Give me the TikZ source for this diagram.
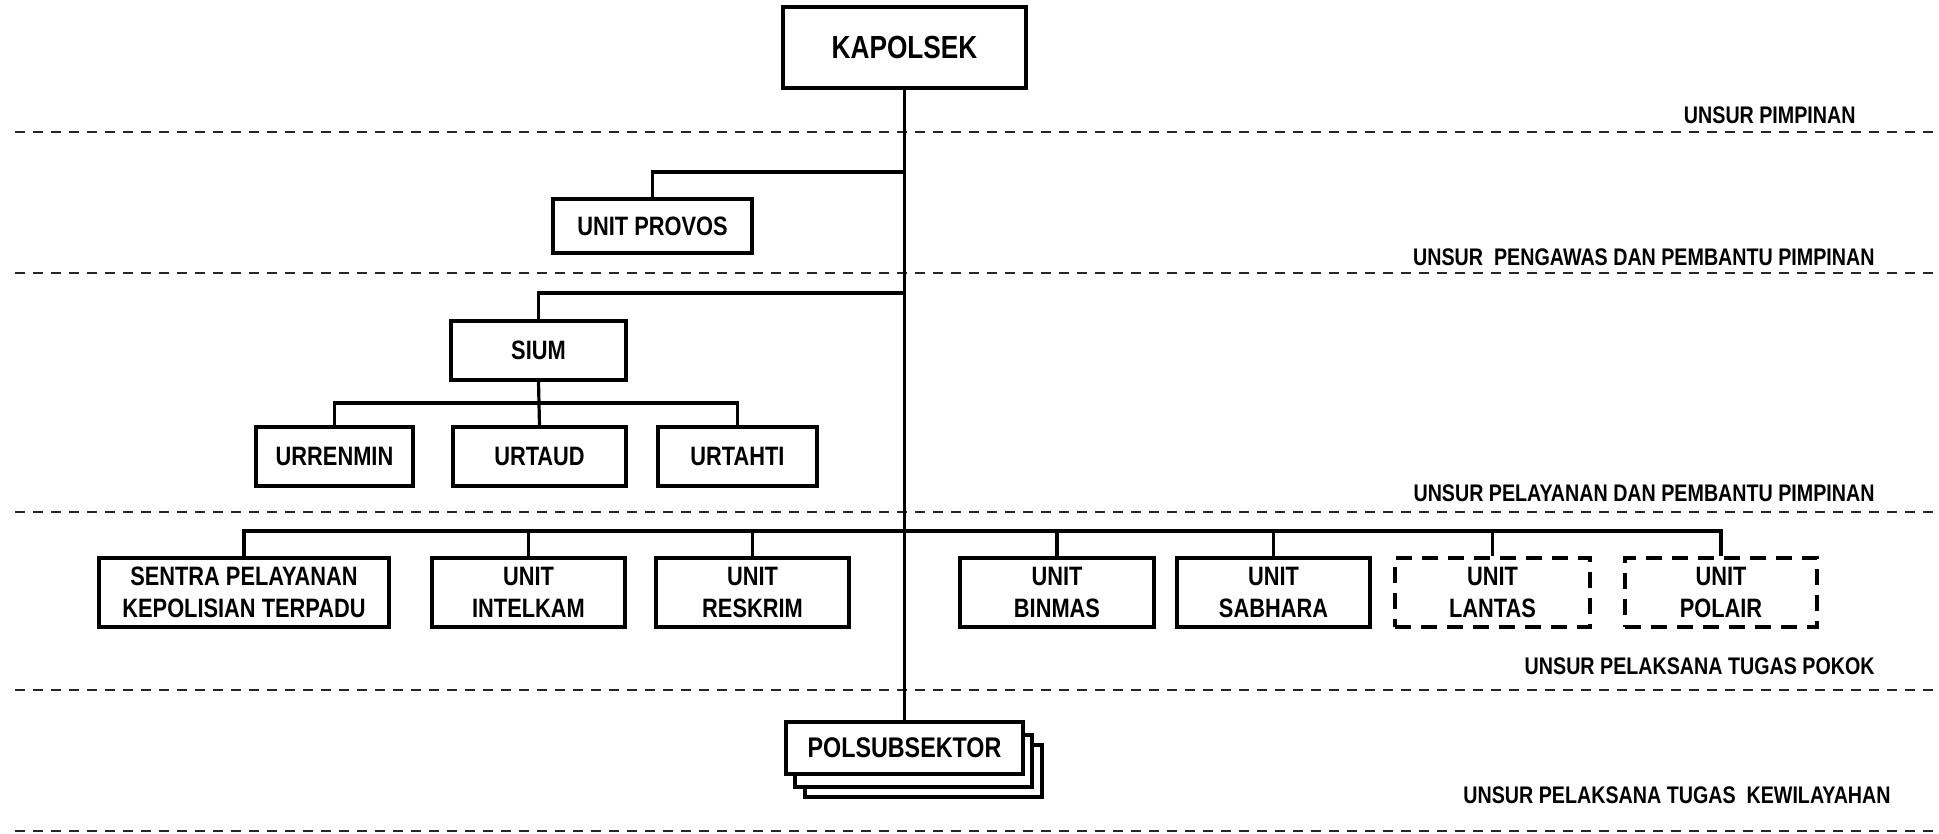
\documentclass[tikz,border=0pt]{standalone}
\usepackage{fontspec}
\setmainfont[FakeStretch=0.82]{Liberation Sans}
\begin{document}
\begin{tikzpicture}[x=0.5pt, y=-0.5pt,
    unit/.style={draw=black, line width=1.6pt, fill=white, inner sep=0pt,
                 font=\fontsize{13.3}{16}\selectfont\bfseries, align=center},
    optunit/.style={unit, dash pattern=on 8pt off 5pt, line width=1.8pt},
    link/.style={line width=1.6pt, draw=black},
    sep/.style={line width=1.3pt, draw=black!85, dash pattern=on 5pt off 4pt},
    layer/.style={anchor=east, inner sep=0pt,
                  font=\fontsize{12}{15}\selectfont\bfseries}]
  \useasboundingbox (0,0) rectangle (1939,834);

  % ---- the layer separators
  \foreach \yy in {132,273,512,690,831}
    \draw[sep] (15,\yy) -- (1939,\yy);

  % ---- layer names on the right
  \node[layer] (lpimp) at (1856,115) {UNSUR PIMPINAN};
  \node[layer] (lawas) at (1875,257) {UNSUR\ \ PENGAWAS DAN PEMBANTU PIMPINAN};
  \node[layer] (llayan) at (1875,493) {UNSUR PELAYANAN DAN PEMBANTU PIMPINAN};
  \node[layer] (lpokok) at (1875,666) {UNSUR PELAKSANA TUGAS POKOK};
  \node[layer] (lwil) at (1891,795) {UNSUR PELAKSANA TUGAS\ \ KEWILAYAHAN};

  % ---- top
  \node[unit, minimum width=121.5pt, minimum height=40.5pt,
        font=\fontsize{16}{19}\selectfont\bfseries] (kap) at (904.5,47.5) {KAPOLSEK};
  \node[unit, minimum width=99.5pt, minimum height=27pt] (prov) at (652.5,226) {UNIT PROVOS};
  \node[unit, minimum width=87.5pt, minimum height=29.5pt] (sium) at (538.5,350.5) {SIUM};

  % ---- SIUM staff
  \node[unit, minimum width=78.5pt, minimum height=29.5pt] (renmin) at (334.5,456.5) {URRENMIN};
  \node[unit, minimum width=86.5pt, minimum height=29.5pt] (taud) at (539.5,456.5) {URTAUD};
  \node[unit, minimum width=79.5pt, minimum height=29.5pt] (tahti) at (737.5,456.5) {URTAHTI};

  % ---- line units
  \node[unit, minimum width=145pt, minimum height=34.5pt] (spkt) at (244,592.5)
    {SENTRA PELAYANAN\\KEPOLISIAN TERPADU};
  \node[unit, minimum width=96.5pt, minimum height=34.5pt] (intel) at (528.5,592.5) {UNIT\\INTELKAM};
  \node[unit, minimum width=96.5pt, minimum height=34.5pt] (reskrim) at (752.5,592.5) {UNIT\\RESKRIM};
  \node[unit, minimum width=97pt, minimum height=34.5pt] (binmas) at (1057,592.5) {UNIT\\BINMAS};
  \node[unit, minimum width=96.5pt, minimum height=34.5pt] (sabhara) at (1273.5,592.5) {UNIT\\SABHARA};
  \node[optunit, minimum width=97.5pt, minimum height=34.5pt] (lantas) at (1492.5,592.5) {UNIT\\LANTAS};
  \node[optunit, minimum width=96pt, minimum height=34.5pt] (polair) at (1721,592.5) {UNIT\\POLAIR};

  % ---- polsubsektor, stacked
  \node[unit, minimum width=118.5pt, minimum height=26pt] (polsubC) at (923.5,771) {};
  \node[unit, minimum width=118.5pt, minimum height=26pt] (polsubB) at (913.5,761) {};
  \node[unit, minimum width=118.5pt, minimum height=26pt,
        font=\fontsize{14.2}{17}\selectfont\bfseries] (polsub) at (904.5,748) {POLSUBSEKTOR};

  % ---- junctions on the command line
  \coordinate (jprov) at (904.5,172);
  \coordinate (jsium) at (904.5,293);
  \coordinate (jstaf) at (539.5,403);
  \coordinate (jline) at (904.5,531);

  \draw[link] (kap.south) -- (polsub.north);
  \draw[link] (prov.north) |- (jprov);
  \draw[link] (sium.north) |- (jsium);
  \draw[link] (sium.south) -- (taud.north);
  \draw[link] (renmin.north) |- (jstaf) -| (tahti.north);
  \draw[link] (spkt.north) |- (jline) -| (polair.north);
  \foreach \u in {intel,reskrim,binmas,sabhara,lantas}
    \draw[link] (\u.north) -- (\u.north |- jline);
\end{tikzpicture}
\end{document}
